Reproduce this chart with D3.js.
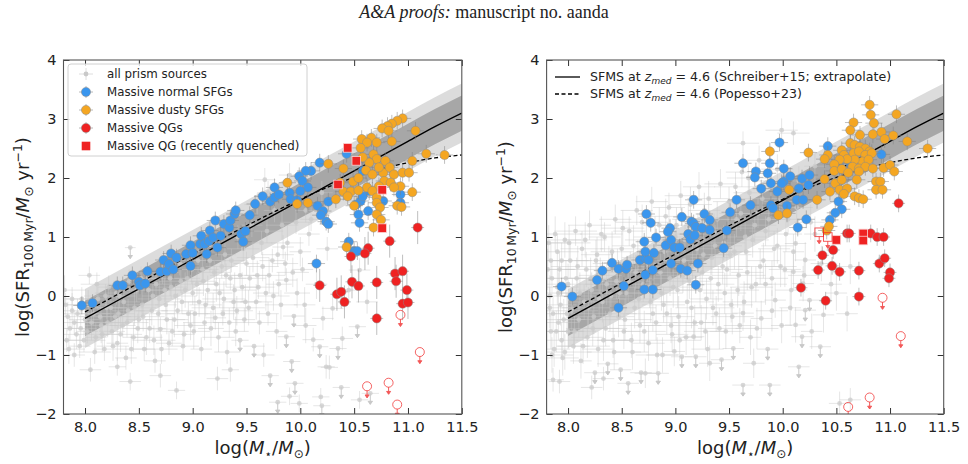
<!DOCTYPE html>
<html>
<head>
<meta charset="utf-8">
<script src="https://cdnjs.cloudflare.com/ajax/libs/d3/7.8.5/d3.min.js"></script>
<style>
  body { margin: 0; background: #fff; }
  svg { display: block; }
  text { font-family: "DejaVu Sans", sans-serif; fill: #222; }
</style>
</head>
<body>
<svg id="fig" width="968" height="464"></svg>
<script>
// ---- SFMS curves (log M*, log SFR)
const smsX      = [8.0, 8.5, 9.0, 9.5, 9.75, 10.0, 10.25, 10.5, 10.75, 11.0, 11.25, 11.5];
const schreiber = [-0.38, 0.12, 0.62, 1.12, 1.37, 1.62, 1.87, 2.12, 2.37, 2.62, 2.87, 3.10];
const popesso   = [-0.27, 0.22, 0.71, 1.19, 1.42, 1.64, 1.84, 2.01, 2.15, 2.26, 2.34, 2.39];
const bandInner = 0.3, bandOuter = 0.5;

const xTicks = [8.0, 8.5, 9.0, 9.5, 10.0, 10.5, 11.0, 11.5];
const yTicks = [-2, -1, 0, 1, 2, 3, 4];

// ---- all prism sources: [logM, logSFR, xerr, yerr, upperLimit]
const grayL = [
  [7.82,-0.15,0.15,0.2],[7.84,-0.35,0.15,0.25],[7.86,-0.55,0.12,0.2],[7.83,-0.75,0.15,0.2],[7.88,-0.25,0.1,0.3],
  [7.9,-0.45,0.15,0.2],[7.92,-0.65,0.12,0.25],[7.95,-0.85,0.1,0.2],[7.97,-0.05,0.15,0.2],[8.0,-0.4,0.15,0.25],
  [8.02,-0.6,0.1,0.2],[8.04,0.35,0.1,0.15],[7.9,-1.0,0.1,0.2],[8.05,-1.25,0.1,0.2],
  [8.08,-0.3,0.15,0.2],[8.1,-0.7,0.1,0.25],[8.12,-0.05,0.12,0.2],[8.15,-0.5,0.15,0.3],[8.18,-0.9,0.1,0.2],
  [8.2,-0.2,0.15,0.2],[8.22,0.15,0.1,0.2],[8.25,-0.6,0.12,0.25],[8.28,-0.35,0.15,0.2],[8.3,-0.8,0.1,0.3],
  [8.32,0.0,0.15,0.2],[8.35,-0.5,0.12,0.2],[8.38,-1.05,0.1,0.2],[8.4,-0.25,0.15,0.2],[8.42,0.82,0.05,0.15,1],
  [8.45,-0.7,0.1,0.25],[8.48,0.1,0.15,0.2],[8.5,-0.4,0.12,0.2],[8.42,-1.45,0.1,0.15],[8.3,-1.2,0.08,0.15],
  [8.53,-0.15,0.15,0.25],[8.55,-0.9,0.1,0.2],[8.58,0.3,0.12,0.2],[8.6,-0.55,0.15,0.25],[8.63,0.0,0.1,0.2],
  [8.65,-1.1,0.1,0.2],[8.68,-0.3,0.15,0.3],[8.7,-0.56,0.12,0.2],[8.72,0.4,0.15,0.2],[8.75,-0.15,0.1,0.25],
  [8.78,-0.8,0.12,0.2],[8.8,0.15,0.15,0.2],[8.83,-0.4,0.1,0.3],[8.85,-1.6,0.08,0.15],[8.88,0.55,0.12,0.2],
  [8.9,-0.1,0.15,0.2],[8.92,-0.65,0.1,0.2],[8.95,0.3,0.12,0.2],[8.98,-0.5,0.15,0.25],[9.0,0.05,0.1,0.2],
  [8.7,-1.35,0.1,0.2],
  [9.02,-0.3,0.12,0.3],[9.05,0.6,0.15,0.2],[9.08,-0.9,0.1,0.2],[9.1,0.25,0.12,0.25],[9.12,-0.15,0.15,0.2],
  [9.15,0.85,0.1,0.2],[9.17,-0.55,0.12,0.3],[9.2,0.4,0.15,0.2],[9.21,-0.37,0.1,0.2],[9.23,-1.4,0.1,0.2],
  [9.25,0.05,0.12,0.25],[9.28,-0.3,0.15,0.2],[9.3,0.7,0.1,0.2],[9.32,-0.95,0.12,0.2],[9.35,0.3,0.15,0.2],
  [9.38,-0.1,0.1,0.3],[9.4,-0.6,0.12,0.25],[9.42,1.0,0.1,0.2],[9.44,-0.75,0.08,0.2,1],[9.46,0.15,0.15,0.25],
  [9.48,-0.4,0.1,0.2],[9.5,0.55,0.12,0.2],[9.35,-1.25,0.08,0.2],
  [9.52,-0.2,0.15,0.3],[9.55,1.2,0.1,0.2],[9.57,-0.85,0.1,0.2,1],[9.6,0.35,0.12,0.25],[9.62,-0.45,0.15,0.2],
  [9.64,0.9,0.1,0.2],[9.66,-1.0,0.1,0.2],[9.68,0.05,0.12,0.3],[9.7,-0.3,0.1,0.2],[9.72,-1.35,0.08,0.2,1],
  [9.74,0.6,0.12,0.2],[9.76,1.45,0.1,0.2],[9.78,-0.6,0.1,0.3],[9.79,-1.8,0.08,0.15,1],[9.8,0.2,0.12,0.2],
  [9.82,-0.15,0.15,0.25],[9.84,0.83,0.1,0.2],[9.86,0.55,0.12,0.2],[9.87,0.27,0.1,0.2],[9.87,-0.69,0.08,0.2,1],
  [9.9,-1.7,0.08,0.15],[9.92,-1.11,0.08,0.2,1],[9.94,-0.34,0.1,0.2,1],[9.95,-1.48,0.08,0.15,1],[9.97,0.05,0.12,0.25],
  [9.99,-1.82,0.08,0.15],[9.7,1.75,0.1,0.2],[9.6,1.55,0.12,0.2],[9.67,1.97,0.1,0.2],[9.9,2.05,0.1,0.2],
  [10.02,0.45,0.1,0.2],[10.05,-0.5,0.1,0.3],[10.08,1.05,0.1,0.2],[10.12,-0.74,0.1,0.2],[10.15,0.2,0.1,0.25],
  [10.18,-0.86,0.08,0.2,1],[10.19,-1.71,0.08,0.15],[10.2,-1.86,0.08,0.15,1],[10.21,-0.38,0.1,0.2],[10.24,-1.2,0.08,0.2],
  [10.27,-1.21,0.08,0.2],[10.3,-0.21,0.1,0.2],[10.35,-0.89,0.08,0.2,1],[10.38,-1.55,0.08,0.15,1],[10.39,-0.72,0.1,0.2],
  [10.45,0.1,0.1,0.2],[10.53,-0.52,0.08,0.2,1],[10.55,0.44,0.1,0.2],[10.55,-1.76,0.08,0.15],[10.62,-0.1,0.1,0.2],
  [10.65,-1.65,0.08,0.15,1],[10.1,1.3,0.1,0.2],[10.25,0.8,0.1,0.2],[10.2,1.75,0.1,0.2],[10.05,1.45,0.1,0.2],
  [7.81,0.1,0.2,0.25],[7.85,-0.9,0.15,0.25],[7.88,-0.05,0.2,0.2],[7.93,-0.3,0.2,0.25],[7.96,-0.55,0.15,0.3],
  [7.99,-0.75,0.2,0.2],[8.03,-0.15,0.2,0.25],[8.06,-0.45,0.15,0.3],[8.09,-0.95,0.15,0.2],[8.11,0.2,0.15,0.2],
  [8.14,-0.35,0.2,0.25],[8.16,-0.65,0.15,0.3],[8.19,0.0,0.2,0.2],[8.21,-0.45,0.2,0.25],[8.24,-0.2,0.15,0.3],
  [8.26,-0.85,0.15,0.25],[8.29,0.05,0.2,0.2],[8.31,-0.3,0.15,0.25],[8.33,-0.65,0.2,0.3],[8.36,-0.1,0.15,0.2],
  [8.39,-0.45,0.2,0.25],[8.41,0.25,0.15,0.2],[8.43,-0.9,0.15,0.25],[8.46,-0.2,0.2,0.3],[8.49,-0.55,0.15,0.25],
  [8.52,0.3,0.15,0.2],[8.54,-0.35,0.2,0.25],[8.57,-0.7,0.15,0.3],[8.59,0.1,0.2,0.2],[8.62,-0.25,0.15,0.25],
  [8.64,-0.75,0.2,0.25],[8.66,0.2,0.15,0.2],[8.69,-0.05,0.2,0.3],[8.71,-0.9,0.15,0.25],[8.74,0.1,0.15,0.2],
  [8.76,-0.4,0.2,0.25],[8.79,0.3,0.15,0.3],[8.81,-0.6,0.15,0.25],[8.84,0.0,0.2,0.2],[8.86,-0.25,0.15,0.3],
  [8.89,0.25,0.2,0.2],[8.91,-0.85,0.15,0.25],[8.93,0.1,0.15,0.3],[8.96,-0.3,0.2,0.2],[8.99,0.45,0.15,0.25],
  [9.01,-0.6,0.15,0.3],[9.04,0.2,0.2,0.2],[9.06,-0.1,0.15,0.25],[9.09,0.45,0.15,0.2],[9.11,-0.45,0.2,0.3],
  [9.14,0.1,0.15,0.25],[9.16,0.6,0.15,0.2],[9.19,-0.2,0.2,0.25],[9.22,0.2,0.15,0.3],[9.24,-0.7,0.15,0.25],
  [9.27,0.5,0.15,0.2],[9.29,-0.05,0.2,0.3],[9.31,0.35,0.15,0.2],[9.34,-0.45,0.15,0.25],[9.36,0.6,0.15,0.2],
  [9.39,0.1,0.2,0.3],[9.41,-0.25,0.15,0.25],[9.44,0.35,0.15,0.2],[9.47,0.8,0.15,0.25],[9.49,-0.1,0.15,0.3],
  [9.53,0.3,0.15,0.2],[9.56,0.65,0.15,0.25],[9.59,-0.1,0.15,0.3],[9.61,0.15,0.15,0.2],[9.65,0.5,0.15,0.25],
  [9.69,1.1,0.15,0.2],[9.71,0.35,0.15,0.3],[9.75,0.0,0.15,0.25],[9.79,0.7,0.15,0.2],[9.83,1.2,0.15,0.25],
  [9.88,0.9,0.15,0.3],[9.93,0.4,0.15,0.25],[9.96,1.25,0.15,0.2],[10.0,0.75,0.1,0.25],[10.04,-0.15,0.1,0.3]
];
const grayR = [
  [7.82,0.9,0.2,0.3],[7.84,0.6,0.2,0.3],[7.85,0.3,0.15,0.3],[7.83,0.0,0.2,0.35],[7.86,-0.3,0.15,0.3],
  [7.84,-0.6,0.2,0.3],[7.87,-0.9,0.15,0.3],[7.86,-1.42,0.1,0.2],[7.9,0.75,0.2,0.3],[7.92,0.45,0.15,0.3],
  [7.9,0.15,0.2,0.3],[7.93,-0.15,0.15,0.35],[7.91,-0.45,0.2,0.3],[7.94,-0.75,0.15,0.3],[7.95,-1.05,0.15,0.3],
  [7.97,0.95,0.15,0.3],[7.98,0.3,0.2,0.3],[7.99,-0.3,0.15,0.35],[8.0,-0.6,0.15,0.3],[7.92,-1.45,0.1,0.2],
  [8.02,0.6,0.2,0.3],[8.04,0.0,0.15,0.3],[8.05,-0.85,0.15,0.3],[8.07,1.1,0.2,0.25],[8.08,0.3,0.15,0.35],
  [8.1,-0.4,0.2,0.3],[8.12,-1.1,0.1,0.3],[8.13,0.8,0.2,0.3],[8.15,-0.1,0.15,0.3],[8.17,0.45,0.2,0.3],
  [8.18,-0.7,0.15,0.35],[8.2,1.2,0.2,0.25],[8.22,0.1,0.15,0.3],[8.24,-0.35,0.2,0.3],[8.25,-1.3,0.1,0.2,1],
  [8.27,0.7,0.15,0.3],[8.28,-0.9,0.15,0.3],[8.3,0.35,0.2,0.3],[8.32,-0.1,0.15,0.35],[8.34,1.0,0.15,0.25],
  [8.35,-0.55,0.2,0.3],[8.37,-1.15,0.1,0.3,1],[8.38,0.55,0.15,0.3],[8.4,0.0,0.2,0.3],[8.42,-0.75,0.15,0.3],
  [8.44,1.3,0.15,0.25],[8.45,0.25,0.2,0.3],[8.47,-0.35,0.15,0.35],[8.49,-1.25,0.1,0.25,1],[8.5,0.8,0.2,0.3],
  [8.22,-1.55,0.1,0.2],[8.33,-1.4,0.1,0.2],
  [8.52,-0.6,0.15,0.3],[8.54,0.05,0.2,0.3],[8.56,-1.48,0.1,0.2,1],[8.57,1.1,0.15,0.25],[8.58,0.45,0.2,0.3],
  [8.6,-0.95,0.15,0.3],[8.62,-0.2,0.2,0.35],[8.64,1.45,0.15,0.25],[8.65,0.65,0.15,0.3],[8.67,-0.5,0.2,0.3],
  [8.68,-1.3,0.1,0.25,1],[8.7,0.2,0.15,0.3],[8.72,-1.31,0.1,0.25],[8.73,0.95,0.2,0.3],[8.75,-0.8,0.15,0.3],
  [8.77,-0.1,0.2,0.35],[8.78,1.6,0.15,0.25],[8.8,0.5,0.15,0.3],[8.82,-0.45,0.2,0.3],[8.84,-1.31,0.1,0.25,1],
  [8.85,1.2,0.15,0.3],[8.87,0.05,0.2,0.3],[8.88,-1.0,0.15,0.3],[8.9,0.75,0.15,0.3],[8.92,-0.3,0.2,0.35],
  [8.94,1.5,0.15,0.25],[8.95,0.3,0.2,0.3],[8.97,-0.65,0.15,0.3],[8.99,-0.94,0.1,0.25],[9.0,1.0,0.15,0.3],
  [9.02,0.1,0.2,0.3],[9.03,-0.35,0.15,0.35],[9.05,1.7,0.15,0.25],[9.06,-1.03,0.1,0.25,1],[9.08,0.6,0.2,0.3],
  [9.1,-0.7,0.15,0.3],[9.12,1.3,0.15,0.3],[9.13,0.25,0.2,0.3],[9.15,-0.2,0.15,0.35],[9.17,-0.69,0.1,0.3],
  [9.19,-1.03,0.1,0.25,1],[9.2,0.8,0.2,0.3],[9.22,1.85,0.15,0.25],[9.24,-0.45,0.15,0.3],[9.25,0.4,0.2,0.3],
  [9.27,1.45,0.15,0.3],[9.29,-0.05,0.15,0.35],[9.3,-0.9,0.15,0.3],[9.32,-1.14,0.1,0.3],[9.34,0.65,0.2,0.3],
  [9.36,1.1,0.15,0.3],[9.38,-0.3,0.2,0.3],[9.4,0.2,0.15,0.3],[9.42,1.9,0.15,0.25],[9.43,-1.08,0.1,0.25,1],
  [9.45,0.9,0.2,0.3],[9.47,-0.6,0.15,0.3],[9.48,0.45,0.15,0.3],[9.5,1.6,0.15,0.25],
  [9.52,-0.15,0.2,0.3],[9.54,-0.89,0.1,0.3,1],[9.55,0.75,0.15,0.3],[9.57,1.3,0.15,0.3],[9.58,0.1,0.2,0.3],
  [9.6,-0.5,0.15,0.3],[9.62,2.1,0.15,0.25],[9.63,-0.29,0.1,0.3],[9.63,-1.51,0.1,0.2,1],[9.63,2.59,0.15,0.2],
  [9.65,1.0,0.2,0.3],[9.67,0.4,0.15,0.3],[9.69,1.75,0.15,0.25],[9.7,-0.7,0.1,0.3],[9.72,0.95,0.15,0.3],
  [9.73,-1.14,0.1,0.25],[9.75,0.2,0.15,0.3],[9.77,1.4,0.15,0.25],[9.78,2.3,0.15,0.25],[9.8,-0.38,0.1,0.3],
  [9.82,0.6,0.15,0.3],[9.84,1.1,0.15,0.25],[9.86,-0.9,0.1,0.3,1],[9.88,-1.51,0.1,0.2,1],[9.89,1.95,0.15,0.25],
  [9.9,0.3,0.15,0.3],[9.93,-0.07,0.1,0.3],[9.95,0.85,0.15,0.3],[9.97,1.6,0.15,0.25],[9.99,2.81,0.15,0.2],
  [9.99,-0.5,0.1,0.3],
  [10.02,0.45,0.15,0.3],[10.05,1.3,0.15,0.25],[10.07,-0.2,0.1,0.3],[10.1,2.76,0.15,0.2],[10.1,0.75,0.1,0.3],
  [10.1,0.41,0.1,0.3],[10.12,0.89,0.1,0.3],[10.12,-0.49,0.1,0.3],[10.15,-1.2,0.1,0.25,1],[10.18,-0.69,0.1,0.3,1],
  [10.19,0.21,0.1,0.3],[10.21,0.61,0.1,0.3],[10.21,-0.24,0.1,0.3,1],[10.25,-0.07,0.1,0.3,1],[10.27,-0.6,0.1,0.3],
  [10.3,1.05,0.1,0.3],[10.35,-0.86,0.1,0.3,1],[10.38,-0.32,0.1,0.3],[10.45,0.2,0.1,0.3],[10.53,-1.82,0.1,0.2],
  [10.6,-0.3,0.1,0.3],[10.63,0.5,0.1,0.3],[10.63,-1.76,0.1,0.2],[10.15,1.95,0.1,0.25],[10.3,2.2,0.1,0.25],
  [7.81,0.45,0.25,0.35],[7.83,-0.2,0.25,0.35],[7.85,-1.0,0.2,0.3],[7.88,1.05,0.25,0.3],[7.89,-0.6,0.25,0.35],
  [7.91,0.05,0.2,0.35],[7.94,0.6,0.25,0.3],[7.96,-0.4,0.2,0.35],[7.97,-0.95,0.25,0.3],[8.0,0.2,0.25,0.35],
  [8.01,0.9,0.2,0.3],[8.03,-0.25,0.25,0.35],[8.06,-0.6,0.2,0.3],[8.09,0.5,0.25,0.35],[8.11,0.05,0.2,0.35],
  [8.14,-0.85,0.25,0.3],[8.16,0.95,0.2,0.3],[8.19,-0.2,0.25,0.35],[8.21,0.3,0.2,0.35],[8.23,-0.55,0.25,0.3],
  [8.26,0.6,0.2,0.35],[8.29,-0.05,0.25,0.3],[8.31,1.05,0.2,0.3],[8.33,-0.75,0.25,0.35],[8.36,0.2,0.2,0.35],
  [8.39,-0.3,0.25,0.3],[8.41,0.75,0.2,0.35],[8.43,-0.95,0.25,0.3],[8.46,0.45,0.2,0.35],[8.48,0.05,0.25,0.3],
  [8.51,1.15,0.2,0.3],[8.53,-0.4,0.25,0.35],[8.56,0.25,0.2,0.35],[8.59,-0.75,0.25,0.3],[8.61,0.85,0.2,0.35],
  [8.63,0.4,0.25,0.3],[8.66,-0.05,0.2,0.35],[8.69,1.25,0.25,0.3],[8.71,-0.6,0.2,0.35],[8.74,0.55,0.25,0.3],
  [8.76,0.15,0.2,0.35],[8.79,-0.3,0.25,0.3],[8.81,1.0,0.2,0.35],[8.83,-1.0,0.2,0.3],[8.86,0.4,0.25,0.35],
  [8.89,-0.15,0.2,0.3],[8.91,1.35,0.25,0.3],[8.93,0.6,0.2,0.35],[8.96,-0.5,0.25,0.3],[8.98,0.15,0.2,0.35],
  [9.01,1.2,0.25,0.3],[9.04,-0.75,0.2,0.35],[9.07,0.35,0.25,0.3],[9.09,0.95,0.2,0.35],[9.11,-0.1,0.25,0.3],
  [9.14,1.55,0.2,0.3],[9.16,0.5,0.25,0.35],[9.18,-0.45,0.2,0.3],[9.21,1.05,0.25,0.35],[9.23,0.1,0.2,0.3],
  [9.26,0.7,0.25,0.35],[9.28,-0.6,0.2,0.3],[9.31,1.65,0.2,0.3],[9.33,0.3,0.25,0.35],[9.35,-0.2,0.2,0.3],
  [9.37,0.85,0.25,0.35],[9.39,1.3,0.2,0.3],[9.41,-0.55,0.2,0.35],[9.44,0.5,0.25,0.3],[9.46,0.05,0.2,0.35],
  [9.49,1.15,0.25,0.3],[9.51,0.7,0.2,0.35],[9.53,-0.35,0.2,0.3],[9.56,1.85,0.2,0.25],[9.59,0.35,0.25,0.35],
  [9.61,1.4,0.2,0.3],[9.64,-0.1,0.2,0.35],[9.66,0.75,0.25,0.3],[9.68,2.0,0.2,0.25],[9.71,0.15,0.2,0.35],
  [9.74,1.2,0.2,0.3],[9.76,-0.55,0.2,0.35],[9.79,0.5,0.2,0.3],[9.81,1.65,0.2,0.25],[9.84,0.2,0.2,0.35],
  [9.87,1.3,0.15,0.3],[9.9,-0.25,0.15,0.35],[9.92,0.8,0.15,0.3],[9.95,2.15,0.15,0.25],[9.98,0.5,0.15,0.35],
  [10.03,1.05,0.15,0.3],[10.08,0.1,0.15,0.35],[10.13,1.5,0.15,0.3],[10.2,0.35,0.15,0.3],[10.26,1.25,0.15,0.3],
  [10.36,0.55,0.1,0.3],[10.5,0.05,0.1,0.3]
];

// ---- massive galaxies, left panel (SFR over 100 Myr)
const blueL = [
  [7.97,-0.16],[8.07,-0.12],[8.30,0.18],[8.35,0.18],[8.44,0.35],[8.50,0.24],[8.51,0.18],[8.56,0.21],[8.58,0.42],
  [8.70,0.41],[8.73,0.61],[8.76,0.42],[8.78,0.54],[8.80,0.72],[8.82,0.45],[8.85,0.65],[8.94,0.71],[8.98,0.51],
  [8.98,0.86],[9.00,0.73],[9.07,0.88],[9.08,1.02],[9.11,0.88],[9.13,0.71],[9.15,0.93],[9.16,1.11],[9.19,0.99],
  [9.21,1.28],[9.23,0.82],[9.26,1.02],[9.29,1.22],[9.34,1.16],[9.35,1.28],[9.39,1.39],[9.40,1.45],[9.45,1.05],
  [9.47,0.92],[9.49,1.10],[9.53,1.37],[9.58,1.56],[9.65,1.69],[9.72,1.60],[9.76,1.67],[9.76,1.84],[9.80,1.72],
  [10.18,2.26],[10.43,2.41],[10.10,2.12],[10.05,2.12],[9.99,2.03],[10.02,1.95],[10.07,1.84],[9.90,1.75],
  [10.00,1.78],[9.91,1.64],[9.97,1.62],[10.16,1.53],[10.26,1.60],[10.21,1.44],[10.19,1.37],[10.24,1.26],
  [10.26,1.22],[10.56,1.61],[10.52,1.55],[10.58,1.69],[10.54,1.38],[10.55,1.24],[10.63,1.44],[10.58,2.12],
  [10.93,1.72],[10.93,1.58],[10.77,1.61],[10.64,1.78],[10.45,0.92],[10.50,0.76],[10.53,0.76],[10.15,0.55]
];
const orangeL = [
  [10.95,3.01],[10.90,2.97],[10.85,2.92],[10.81,2.88],[10.76,2.84],[10.82,2.80],[11.07,2.80],[10.57,2.66],
  [10.66,2.68],[10.62,2.60],[10.71,2.60],[10.85,2.62],[10.56,2.51],[10.68,2.40],[10.71,2.32],[10.79,2.29],
  [10.64,2.26],[10.58,2.35],[11.17,2.41],[11.34,2.39],[11.04,2.29],[10.26,2.24],[10.40,2.16],[10.61,2.13],
  [10.67,2.06],[10.77,2.09],[10.83,2.18],[10.73,2.18],[10.87,2.06],[10.95,2.09],[11.01,2.09],[9.88,1.92],
  [10.49,1.94],[10.37,1.92],[10.54,2.00],[10.78,1.95],[10.84,1.92],[10.62,1.84],[10.73,1.86],[10.40,1.77],
  [10.47,1.77],[10.54,1.79],[10.67,1.78],[10.93,1.86],[10.87,1.84],[11.04,1.76],[9.97,1.56],[10.07,1.58],
  [10.33,1.64],[10.44,1.69],[10.50,1.53],[10.71,1.67],[10.71,1.58],[10.74,1.50],[10.90,1.53],[10.94,1.51],
  [10.71,1.38],[10.75,1.29],[10.68,1.16],[10.43,0.83]
];
const redL = [
  [11.09,1.16],[10.83,0.93],[10.63,0.81],[10.60,0.72],[10.47,0.67],[10.18,0.18],[10.34,0.03],[10.38,0.07],
  [10.41,-0.10],[10.48,0.24],[10.54,0.17],[10.71,0.23],[10.71,-0.38],[10.88,0.38],[10.95,0.42],[10.89,0.25],
  [10.99,0.10],[10.95,-0.13],[11.00,-0.11]
];
const quenchL = [[10.44,2.51],[10.52,2.29],[10.35,1.89],[10.76,1.80],[10.76,1.15]];
const limitL = [[10.93,-0.32],[11.11,-0.95],[10.62,-1.53],[10.82,-1.47],[10.90,-1.84]];

// ---- massive galaxies, right panel (SFR over 10 Myr)
const blueR = [
  [7.94,0.16],[8.04,-0.01],[8.47,-0.20],[8.27,0.27],[8.32,0.43],[8.41,0.56],[8.47,0.46],[8.54,0.46],[8.55,0.53],
  [8.52,0.17],[8.71,0.11],[8.79,0.11],[8.72,0.36],[8.79,0.44],[8.67,0.61],[8.72,0.64],[8.75,0.61],[8.72,0.75],
  [8.80,0.73],[8.71,0.92],[8.82,0.99],[8.77,1.24],[8.73,1.39],[8.91,0.86],[8.96,0.95],[8.96,0.55],[8.95,1.15],
  [8.93,1.09],[8.99,0.82],[9.04,0.82],[9.06,1.34],[9.05,0.46],[9.11,0.43],[9.12,1.05],[9.14,0.96],[9.15,1.26],
  [9.17,1.23],[9.19,1.17],[9.18,1.03],[9.21,0.55],[9.19,0.19],[9.25,1.15],[9.27,1.39],[9.32,1.29],[9.32,1.12],
  [9.45,0.81],[9.48,1.11],[9.51,1.42],[9.70,1.54],[9.17,1.63],[9.57,1.63],[9.89,1.54],[9.91,1.49],
  [9.63,2.25],[9.97,2.60],[9.88,2.25],[9.75,2.11],[9.74,2.01],[9.86,2.08],[10.01,2.16],[9.89,1.91],[9.80,1.82],
  [10.01,1.94],[10.07,2.03],[9.99,1.91],[9.95,1.77],[10.04,1.53],[10.13,1.63],[10.19,1.63],[10.15,1.82],
  [10.18,1.99],[10.25,2.05],[10.24,1.88],[10.22,1.30],[10.14,1.16],[10.42,2.54],[10.53,2.19],[10.52,1.60],
  [10.55,1.47],[10.49,1.41],[10.44,1.29],[10.92,2.40],[10.63,2.25]
];
const orangeR = [
  [10.81,3.24],[10.82,3.07],[11.06,3.08],[10.66,2.94],[10.85,2.93],[10.63,2.81],[10.72,2.73],[10.84,2.74],
  [10.92,2.78],[11.03,2.72],[10.95,2.66],[11.16,2.62],[10.63,2.59],[10.67,2.56],[10.72,2.53],[10.77,2.50],
  [10.81,2.45],[10.55,2.47],[10.57,2.39],[10.66,2.42],[10.71,2.45],[10.77,2.39],[10.83,2.42],[10.74,2.28],
  [10.80,2.31],[10.67,2.31],[10.60,2.32],[10.53,2.31],[10.65,2.19],[10.71,2.16],[10.77,2.19],[10.84,2.16],
  [10.48,2.23],[10.42,2.39],[10.24,2.43],[10.39,2.32],[9.88,2.45],[10.48,2.12],[10.55,2.15],[10.61,2.09],
  [10.71,2.11],[10.94,2.17],[11.00,2.22],[11.04,2.11],[10.06,1.80],[10.39,1.98],[10.49,1.91],[10.55,1.97],
  [10.69,1.97],[10.87,1.94],[10.91,1.94],[10.44,1.77],[10.53,1.80],[10.60,1.82],[10.87,1.80],[10.93,1.80],
  [10.57,1.73],[10.32,1.63],[10.67,1.69],[10.71,1.66],[10.75,1.64],[9.96,1.37],[10.04,1.40],[10.41,1.11],
  [10.43,1.18],[11.35,2.50]
];
const redR = [
  [11.08,1.57],[10.60,1.06],[10.62,1.06],[10.82,1.06],[10.88,1.00],[10.94,1.00],[10.47,0.78],[10.37,0.69],
  [10.33,0.44],[10.46,0.51],[10.53,0.41],[10.71,0.43],[10.90,0.55],[10.95,0.64],[11.00,0.40],[10.99,0.30],
  [10.17,0.14],[10.40,-0.08],[10.71,-0.01]
];
const quenchR = [[10.50,0.95],[10.75,1.06],[10.75,0.94]];
const quenchLimitR = [[10.34,1.08],[10.42,1.00]];
const limitR = [[10.93,-0.03],[11.10,-0.68],[10.81,-1.72],[10.61,-1.88]];

// typical uncertainties on the massive galaxies [xerr, yerr]
const errSF = [0.08, 0.15];
const errQL = [0.06, 0.28];
const errQR = [0.06, 0.15];

const blue = "#3a96ee", orange = "#f4a622", red = "#ef2222";
const svg = d3.select("#fig");
const yTop = 60, yBot = 414;

function arrowPath(cx, cy, len, head) {
  return `M${cx},${cy}L${cx},${cy + len}M${cx - head},${cy + len - head * 1.4}L${cx + head},${cy + len - head * 1.4}L${cx},${cy + len}Z`;
}

function panel(p) {
  const x = d3.scaleLinear().domain([7.8, 11.5]).range([p.x0, p.x1]);
  const y = d3.scaleLinear().domain([-2, 4]).range([yBot, yTop]);

  svg.append("clipPath").attr("id", "clip" + p.id)
    .append("rect").attr("x", p.x0).attr("y", yTop).attr("width", p.x1 - p.x0).attr("height", yBot - yTop);
  const g = svg.append("g").attr("clip-path", `url(#clip${p.id})`);

  // scatter bands around Schreiber+15
  const band = w => d3.area()
    .x((d, i) => x(smsX[i])).y0(d => y(d - w)).y1(d => y(d + w))
    .curve(d3.curveMonotoneX);
  g.append("path").datum(schreiber).attr("d", band(bandOuter)).attr("fill", "#8a8a8a").attr("opacity", 0.3);
  g.append("path").datum(schreiber).attr("d", band(bandInner)).attr("fill", "#3c3c3c").attr("opacity", 0.33);

  // all prism sources
  const gg = g.append("g");
  gg.selectAll(".ex").data(p.gray).enter().append("line")
    .attr("x1", d => x(d[0] - d[2])).attr("x2", d => x(d[0] + d[2]))
    .attr("y1", d => y(d[1])).attr("y2", d => y(d[1]))
    .attr("stroke", "#c8c8c8").attr("stroke-opacity", 0.45);
  gg.selectAll(".ey").data(p.gray.filter(d => !d[4])).enter().append("line")
    .attr("x1", d => x(d[0])).attr("x2", d => x(d[0]))
    .attr("y1", d => y(d[1] - d[3])).attr("y2", d => y(d[1] + d[3]))
    .attr("stroke", "#c8c8c8").attr("stroke-opacity", 0.45);
  gg.selectAll(".ul").data(p.gray.filter(d => d[4])).enter().append("path")
    .attr("d", d => arrowPath(x(d[0]), y(d[1]), 11, 2.2))
    .attr("stroke", "#c8c8c8").attr("fill", "#c8c8c8");
  gg.selectAll("circle").data(p.gray).enter().append("circle")
    .attr("cx", d => x(d[0])).attr("cy", d => y(d[1])).attr("r", 2.4)
    .attr("fill", "#cbcbcb").attr("fill-opacity", 0.75);

  // SFMS lines
  const line = d3.line().x((d, i) => x(smsX[i])).y(d => y(d)).curve(d3.curveMonotoneX);
  g.append("path").datum(schreiber).attr("d", line).attr("fill", "none").attr("stroke", "#000").attr("stroke-width", 1.4);
  g.append("path").datum(popesso).attr("d", line).attr("fill", "none").attr("stroke", "#000")
    .attr("stroke-width", 1.3).attr("stroke-dasharray", "4,2.5");

  // error bars of massive galaxies
  const errs = (data, e) => {
    const eg = g.append("g").attr("stroke", "#808080").attr("stroke-opacity", 0.5);
    eg.selectAll(".h").data(data).enter().append("line")
      .attr("x1", d => x(d[0] - e[0])).attr("x2", d => x(d[0] + e[0]))
      .attr("y1", d => y(d[1])).attr("y2", d => y(d[1]));
    eg.selectAll(".v").data(data).enter().append("line")
      .attr("x1", d => x(d[0])).attr("x2", d => x(d[0]))
      .attr("y1", d => y(d[1] - e[1])).attr("y2", d => y(d[1] + e[1]));
  };
  const dots = (data, color) => {
    g.append("g").selectAll("circle").data(data).enter().append("circle")
      .attr("cx", d => x(d[0])).attr("cy", d => y(d[1])).attr("r", 4.6)
      .attr("fill", color).attr("stroke", "#8a8a8a").attr("stroke-width", 0.5);
  };
  errs(p.blue, errSF); dots(p.blue, blue);
  errs(p.orange, errSF); dots(p.orange, orange);
  errs(p.red, p.errQ); dots(p.red, red);

  // recently quenched (squares)
  g.append("g").selectAll("rect").data(p.quench).enter().append("rect")
    .attr("x", d => x(d[0]) - 4.3).attr("y", d => y(d[1]) - 4.3)
    .attr("width", 8.6).attr("height", 8.6)
    .attr("fill", red).attr("stroke", "#fbd0d0").attr("stroke-width", 0.8);
  const qul = g.append("g").selectAll("g").data(p.quenchLimit).enter().append("g");
  qul.append("path").attr("d", d => arrowPath(x(d[0]), y(d[1]) + 4.3, 7, 2)).attr("stroke", red).attr("fill", red).attr("opacity", 0.75);
  qul.append("rect")
    .attr("x", d => x(d[0]) - 4.3).attr("y", d => y(d[1]) - 4.3).attr("width", 8.6).attr("height", 8.6)
    .attr("fill", "none").attr("stroke", red).attr("stroke-opacity", 0.75);

  // QG upper limits
  const ul = g.append("g").selectAll("g").data(p.limit).enter().append("g");
  ul.append("path").attr("d", d => arrowPath(x(d[0]), y(d[1]) + 4.5, 7, 2)).attr("stroke", red).attr("fill", red).attr("opacity", 0.75);
  ul.append("circle").attr("cx", d => x(d[0])).attr("cy", d => y(d[1])).attr("r", 4.5)
    .attr("fill", "none").attr("stroke", red).attr("stroke-opacity", 0.7);

  // axes, ticks inward on all sides
  const ax = svg.append("g");
  const style = sel => {
    sel.select(".domain").remove();
    sel.selectAll("line").attr("stroke", "#333");
    sel.selectAll("text").attr("font-size", "14.5px").attr("font-family", "DejaVu Sans").attr("fill", "#222");
  };
  ax.append("g").attr("transform", `translate(0,${yBot})`)
    .call(d3.axisBottom(x).tickValues(xTicks).tickFormat(d3.format(".1f")).tickSizeInner(-6).tickSizeOuter(0).tickPadding(8)).call(style);
  ax.append("g").attr("transform", `translate(0,${yTop})`)
    .call(d3.axisTop(x).tickValues(xTicks).tickFormat("").tickSizeInner(-6).tickSizeOuter(0)).call(style);
  ax.append("g").attr("transform", `translate(${p.x0},0)`)
    .call(d3.axisLeft(y).tickValues(yTicks).tickFormat(d3.format("d")).tickSizeInner(-6).tickSizeOuter(0).tickPadding(7)).call(style);
  ax.append("g").attr("transform", `translate(${p.x1},0)`)
    .call(d3.axisRight(y).tickValues(yTicks).tickFormat("").tickSizeInner(-6).tickSizeOuter(0)).call(style);
  ax.append("rect").attr("x", p.x0).attr("y", yTop).attr("width", p.x1 - p.x0).attr("height", yBot - yTop)
    .attr("fill", "none").attr("stroke", "#555").attr("stroke-width", 1.1);

  // x label
  const xl = svg.append("text").attr("x", (p.x0 + p.x1) / 2).attr("y", 454)
    .attr("text-anchor", "middle").attr("font-size", "18px");
  xl.append("tspan").text("log(");
  xl.append("tspan").attr("font-style", "italic").text("M");
  xl.append("tspan").attr("font-size", "12px").attr("dy", 4).text("\u22c6");
  xl.append("tspan").attr("dy", -4).text("/");
  xl.append("tspan").attr("font-style", "italic").text("M");
  xl.append("tspan").attr("font-size", "12px").attr("dy", 4).text("\u2299");
  xl.append("tspan").attr("dy", -4).text(")");

  // y label
  const yl = svg.append("text").attr("transform", `translate(${p.x0 - 35},${(yTop + yBot) / 2}) rotate(-90)`)
    .attr("text-anchor", "middle").attr("font-size", "18px");
  yl.append("tspan").text("log(SFR");
  yl.append("tspan").attr("font-size", "12.5px").attr("dy", 4).text(p.sub);
  yl.append("tspan").attr("dy", -4).text("/");
  yl.append("tspan").attr("font-style", "italic").text("M");
  yl.append("tspan").attr("font-size", "12.5px").attr("dy", 4).text("\u2299");
  yl.append("tspan").attr("dy", -4).text(" yr");
  yl.append("tspan").attr("font-size", "12.5px").attr("dy", -7).text("\u22121");
  yl.append("tspan").attr("dy", 7).text(")");

  return { x, y };
}

panel({ id: "L", x0: 63.5, x1: 461.8, gray: grayL, blue: blueL, orange: orangeL, red: redL,
  quench: quenchL, quenchLimit: [], limit: limitL, errQ: errQL, sub: "100\u2009Myr" });
panel({ id: "R", x0: 546.6, x1: 943.7, gray: grayR, blue: blueR, orange: orangeR, red: redR,
  quench: quenchR, quenchLimit: quenchLimitR, limit: limitR, errQ: errQR, sub: "10\u2009Myr" });

// ---- left legend
const legItems = [
  { label: "all prism sources", kind: "gray" },
  { label: "Massive normal SFGs", kind: "dot", color: blue },
  { label: "Massive dusty SFGs", kind: "dot", color: orange },
  { label: "Massive QGs", kind: "dot", color: red },
  { label: "Massive QG (recently quenched)", kind: "sq", color: red }
];
const lg = svg.append("g");
lg.append("rect").attr("x", 68).attr("y", 64).attr("width", 239).attr("height", 92).attr("rx", 3)
  .attr("fill", "#fff").attr("fill-opacity", 0.8).attr("stroke", "#d0d0d0");
const row = lg.selectAll(".row").data(legItems).enter().append("g")
  .attr("transform", (d, i) => `translate(86,${74 + i * 18})`);
row.filter(d => d.kind !== "sq").append("path").attr("d", "M-7,0H7M0,-6V6")
  .attr("stroke", d => d.kind === "gray" ? "#c8c8c8" : "#8a8a8a").attr("stroke-opacity", 0.6);
row.filter(d => d.kind === "gray").append("circle").attr("r", 2.4).attr("fill", "#c9c9c9");
row.filter(d => d.kind === "dot").append("circle").attr("r", 4.6)
  .attr("fill", d => d.color).attr("stroke", "#8a8a8a").attr("stroke-width", 0.5);
row.filter(d => d.kind === "sq").append("rect").attr("x", -4.3).attr("y", -4.3).attr("width", 8.6).attr("height", 8.6)
  .attr("fill", d => d.color);
row.append("text").attr("x", 21).attr("dy", "0.35em").attr("font-size", "11.8px").text(d => d.label);

// ---- right legend
const rlg = svg.append("g");
const rItems = [{ ref: "Schreiber+15; extrapolate", dash: null }, { ref: "Popesso+23", dash: "4,2.5" }];
const rrow = rlg.selectAll("g").data(rItems).enter().append("g")
  .attr("transform", (d, i) => `translate(555,${77 + i * 17})`);
rrow.append("line").attr("x1", 0).attr("x2", 25).attr("stroke", "#000").attr("stroke-width", 1.3)
  .attr("stroke-dasharray", d => d.dash);
const rt = rrow.append("text").attr("x", 35).attr("dy", "0.35em").attr("font-size", "12.6px");
rt.append("tspan").text("SFMS at ");
rt.append("tspan").attr("font-style", "italic").text("z");
rt.append("tspan").attr("font-style", "italic").attr("font-size", "9px").attr("dy", 3).text("med");
rt.append("tspan").attr("dy", -3).text(" = 4.6 (");
rt.append("tspan").text(d => d.ref + ")");

// ---- page header
const hd = svg.append("text").attr("x", 484).attr("y", 18).attr("text-anchor", "middle")
  .attr("font-family", "Liberation Serif").attr("font-size", "18px");
hd.append("tspan").attr("font-style", "italic").attr("font-family", "Liberation Serif").text("A&A proofs:");
hd.append("tspan").attr("font-family", "Liberation Serif").text(" manuscript no. aanda");
</script>
</body>
</html>
